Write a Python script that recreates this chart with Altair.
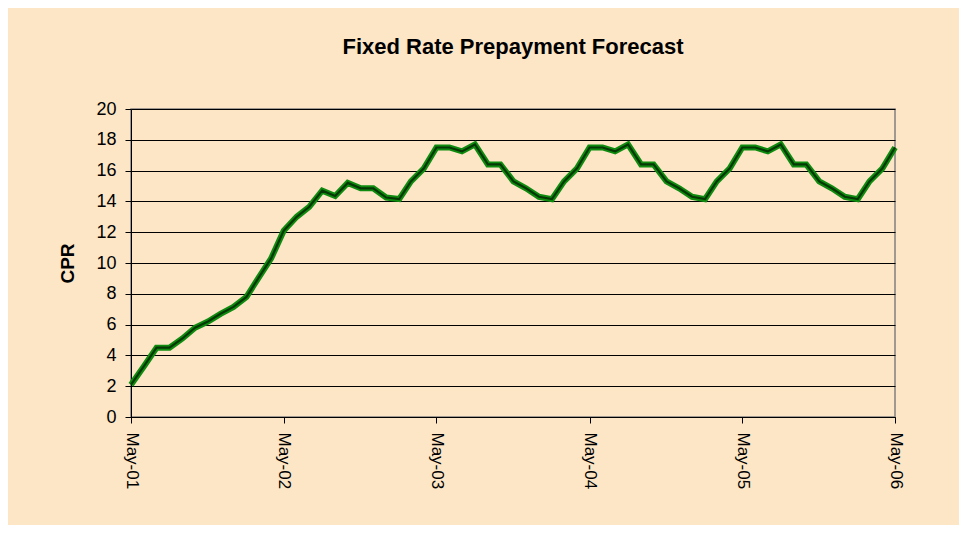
import altair as alt
import pandas as pd

title_text = "Fixed Rate Prepayment Forecast"
y_title = "CPR"
start_month = "2001-05-01"
n_months = 61
cpr = [2.1, 3.3, 4.5, 4.5, 5.1, 5.8, 6.2, 6.7, 7.15, 7.8, 9.0, 10.3,
       12.1, 13.0, 13.65, 14.7, 14.35, 15.2, 14.85, 14.85, 14.25, 14.15, 15.3, 16.15,
       17.5, 17.5, 17.25, 17.7, 16.4, 16.4, 15.3, 14.85, 14.3, 14.15, 15.3, 16.15,
       17.5, 17.5, 17.25, 17.7, 16.4, 16.4, 15.3, 14.85, 14.3, 14.15, 15.3, 16.15,
       17.5, 17.5, 17.25, 17.7, 16.4, 16.4, 15.3, 14.85, 14.3, 14.15, 15.3, 16.15,
       17.5]
tick_years = [2001, 2002, 2003, 2004, 2005, 2006]
y_ticks = [0, 2, 4, 6, 8, 10, 12, 14, 16, 18, 20]

dates = pd.date_range(start_month, periods=n_months, freq="MS").strftime("%Y-%m-%d").tolist()
df = pd.DataFrame({"date": dates, "cpr": cpr})

font = "Liberation Sans"

x_enc = alt.X(
    "date:T",
    scale=alt.Scale(type="utc", nice=False, padding=0),
    axis=alt.Axis(
        title=None,
        values=[alt.DateTime(year=y, month=5, date=1, utc=True) for y in tick_years],
        labelExpr="utcFormat(datum.value, '%b-%y')",
        labelAngle=90,
        labelFontSize=17,
        labelFont=font,
        labelColor="black",
        labelPadding=9,
        tickSize=6,
        tickColor="black",
        domainColor="black",
        grid=False,
    ),
)
y_enc = alt.Y(
    "cpr:Q",
    scale=alt.Scale(domain=[0, 20], nice=False),
    axis=alt.Axis(
        title=y_title,
        values=y_ticks,
        titleFont=font,
        titleFontSize=19,
        titleFontWeight="bold",
        titleColor="black",
        titlePadding=18,
        labelFont=font,
        labelFontSize=18,
        labelColor="black",
        labelPadding=9,
        tickSize=6,
        tickColor="black",
        domainColor="black",
        grid=True,
        gridColor="black",
        gridWidth=1,
        gridOpacity=1,
    ),
)

base = alt.Chart(df).encode(x=x_enc, y=y_enc)
outer = base.mark_line(color="#0f8c0f", strokeWidth=6, strokeJoin="miter")
inner = base.mark_line(color="#063806", strokeWidth=2.2, strokeJoin="miter")

chart = (
    alt.layer(outer, inner)
    .properties(
        width=764,
        height=308,
        title=alt.TitleParams(
            text=title_text,
            font=font,
            fontSize=22,
            fontWeight="bold",
            color="black",
            anchor="middle",
            offset=41,
        ),
        autosize=alt.AutoSizeParams(type="none"),
        padding={"left": 123, "top": 101, "right": 64, "bottom": 108},
    )
    .configure(background="#FCE6C6")
    .configure_view(stroke="#808080", strokeWidth=1.5)
)

chart.save("out.html", embed_options={"renderer": "svg", "actions": False})
